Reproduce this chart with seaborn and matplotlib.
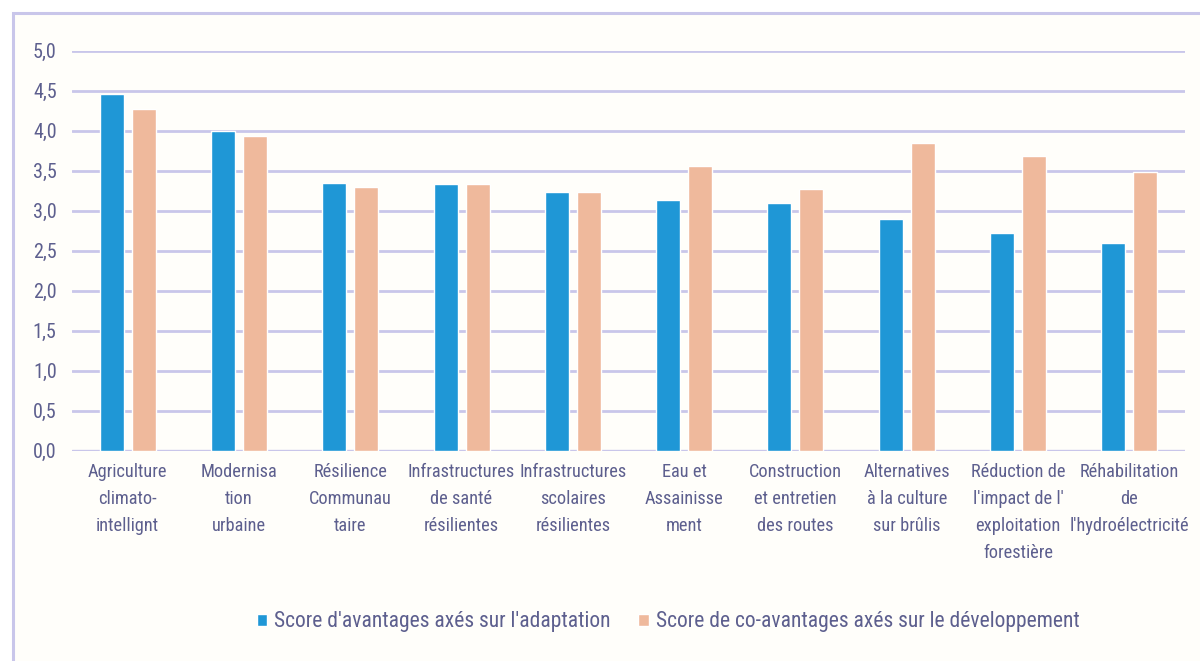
import matplotlib
matplotlib.use("Agg")
import matplotlib.pyplot as plt
import seaborn as sns
import pandas as pd
from matplotlib.patches import Rectangle, Patch

categories = [
    "Agriculture\nclimato-\nintellignt",
    "Modernisa\ntion\nurbaine",
    "Résilience\nCommunau\ntaire",
    "Infrastructures\nde santé\nrésilientes",
    "Infrastructures\nscolaires\nrésilientes",
    "Eau et\nAssainisse\nment",
    "Construction\net entretien\ndes routes",
    "Alternatives\nà la culture\nsur brûlis",
    "Réduction de\nl'impact de l'\nexploitation\nforestière",
    "Réhabilitation\nde\nl'hydroélectricité",
]
adaptation = [4.46, 4.00, 3.35, 3.33, 3.23, 3.13, 3.10, 2.89, 2.72, 2.59]
developpement = [4.27, 3.93, 3.29, 3.33, 3.23, 3.56, 3.27, 3.84, 3.68, 3.48]
series_names = [
    "Score d'avantages axés sur l'adaptation",
    "Score de co-avantages axés sur le développement",
]
yticks = [0.0, 0.5, 1.0, 1.5, 2.0, 2.5, 3.0, 3.5, 4.0, 4.5, 5.0]

BLUE = "#1f97d6"
PEACH = "#efb99c"
GRID = "#c9c6ea"
TEXT = "#5d5f8e"

df = pd.DataFrame({
    "cat": categories * 2,
    "val": adaptation + developpement,
    "serie": [series_names[0]] * len(categories) + [series_names[1]] * len(categories),
})

sns.set_theme(style="white")
plt.rcParams["font.family"] = ["Roboto Condensed", "Liberation Sans Narrow",
                               "Roboto", "DejaVu Sans"]

fig = plt.figure(figsize=(12, 6.61), dpi=100)
fig.patch.set_facecolor("white")

# light frame around the chart area, kept behind the axes
frame = Rectangle((12.5 / 1200, -0.1), 1.2, 1 - 13 / 661 + 0.1,
                  transform=fig.transFigure, fill=True,
                  facecolor="#fffefa", edgecolor=GRID,
                  linewidth=2.2, zorder=-10)
fig.add_artist(frame)

ax = fig.add_axes([72 / 1200, 1 - 450.7 / 661, (1185 - 72) / 1200, 400 / 661])
ax.set_facecolor("none")

sns.barplot(data=df, x="cat", y="val", hue="serie",
            palette=[BLUE, PEACH], width=0.576, gap=0.25,
            saturation=1, ax=ax, legend=False, zorder=3)

ax.set_ylim(0, 5.0)
ax.set_xlim(-0.5, len(categories) - 0.5)
ax.set_yticks(yticks)
ax.set_yticklabels([f"{v:.1f}".replace(".", ",") for v in yticks],
                   color=TEXT, fontsize=14.5)
ax.yaxis.grid(True, color=GRID, linewidth=2.0, zorder=0)
ax.set_axisbelow(True)
for s in ax.spines.values():
    s.set_visible(False)
ax.axhline(0, color=GRID, linewidth=2.4, zorder=2)
ax.tick_params(axis="y", length=0, pad=11)
ax.tick_params(axis="x", length=0, pad=9)
ax.set_xticks(range(len(categories)))
ax.set_xticklabels(categories, color=TEXT, fontsize=13.2, linespacing=1.63,
                   va="top")
ax.set_xlabel("")
ax.set_ylabel("")

handles = [Patch(facecolor=BLUE), Patch(facecolor=PEACH)]
fig.legend(handles, series_names, loc="center", bbox_to_anchor=(668 / 1200, 1 - 622 / 661),
           ncol=2, frameon=False, fontsize=15.5, labelcolor=TEXT,
           handlelength=0.5, handleheight=0.5, handletextpad=0.3,
           columnspacing=1.3)

fig.savefig("out.png", dpi=100)
